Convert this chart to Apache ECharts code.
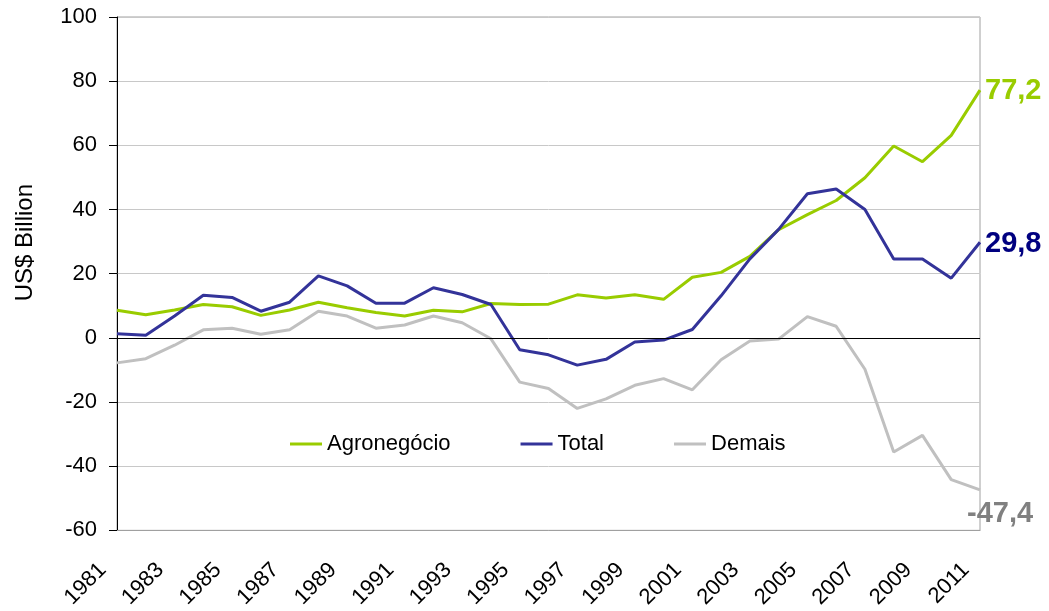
<!DOCTYPE html>
<html>
<head>
<meta charset="utf-8">
<title>Balança comercial</title>
<script src="https://cdn.jsdelivr.net/npm/echarts@6/dist/echarts.min.js"></script>
<style>
    html, body { margin: 0; padding: 0; background: #fff; }
    .chart { width: 1049px; height: 611px; }
</style>
</head>
<body>
<div class="chart"></div>
<script>
// data (US$ billion)
var years = ["1981", "1982", "1983", "1984", "1985", "1986", "1987", "1988", "1989", "1990",
    "1991", "1992", "1993", "1994", "1995", "1996", "1997", "1998", "1999", "2000",
    "2001", "2002", "2003", "2004", "2005", "2006", "2007", "2008", "2009", "2010", "2011"];
var agroData = [8.6, 7.2, 8.7, 10.4, 9.7, 7.0, 8.7, 11.1, 9.4, 7.9,
    6.8, 8.6, 8.1, 10.7, 10.4, 10.5, 13.4, 12.4, 13.4, 12.0,
    18.9, 20.4, 25.4, 33.7, 38.4, 42.8, 49.9, 59.8, 54.9, 63.1, 77.2];
var totalData = [1.3, 0.8, 6.8, 13.3, 12.6, 8.3, 11.1, 19.3, 16.2, 10.8,
    10.8, 15.6, 13.5, 10.4, -3.7, -5.3, -8.5, -6.7, -1.3, -0.7,
    2.6, 13.1, 24.6, 33.8, 44.9, 46.4, 40.0, 24.6, 24.6, 18.6, 29.8];
var demaisData = [-7.8, -6.5, -2.3, 2.5, 3.0, 1.1, 2.5, 8.3, 6.8, 3.0,
    4.0, 6.8, 4.7, -0.3, -13.8, -15.8, -22.0, -19.0, -14.8, -12.7,
    -16.2, -6.8, -1.0, -0.4, 6.6, 3.6, -9.8, -35.6, -30.4, -44.2, -47.4];
var seriesNames = ["Agronegócio", "Total", "Demais"];

(function () {
    var myChart = echarts.init(document.querySelector(".chart"));
    var font = "Liberation Sans";

    // value label at the end of each line, decimal comma
    function endLabel(color, offset) {
        return {
            show: true,
            distance: 5,
            offset: offset,
            color: color,
            fontFamily: font,
            fontWeight: "bold",
            fontSize: 29,
            formatter: function (p) {
                return String(p.value).replace(".", ",");
            }
        };
    }

    var option = {
        animation: false,
        color: ["#99cc00", "#333399", "#c0c0c0"],
        grid: {
            left: 117,
            right: 69,
            top: 17,
            bottom: 80,
            show: true,
            borderColor: "#a0a0a0",
            borderWidth: 1
        },
        legend: {
            data: seriesNames,
            left: 285,
            top: 428,
            icon: "rect",
            itemWidth: 32,
            itemHeight: 3,
            itemGap: 70,
            textStyle: {
                color: "#000",
                fontFamily: font,
                fontSize: 22
            }
        },
        xAxis: {
            type: "category",
            data: years,
            boundaryGap: false,
            axisLine: {
                onZero: false,
                lineStyle: { color: "#a0a0a0" }
            },
            axisTick: { show: false },
            axisLabel: {
                interval: 1,
                rotate: 45,
                margin: 22,
                padding: [0, 20, 0, 0],
                color: "#000",
                fontFamily: font,
                fontSize: 22
            },
            splitLine: { show: false }
        },
        yAxis: {
            type: "value",
            min: -60,
            max: 100,
            interval: 20,
            name: "US$ Billion",
            nameLocation: "middle",
            nameGap: 80,
            nameTextStyle: {
                color: "#000",
                fontFamily: font,
                fontSize: 24,
                padding: [0, 0, 0, 62]
            },
            axisLine: {
                show: true,
                lineStyle: { color: "#000" }
            },
            axisTick: {
                show: true,
                inside: false,
                length: 8,
                lineStyle: { color: "#000" }
            },
            axisLabel: {
                margin: 20,
                color: "#000",
                fontFamily: font,
                fontSize: 22
            },
            splitLine: {
                lineStyle: { color: "#c8c8c8" }
            }
        },
        series: [
            {
                name: seriesNames[0],
                type: "line",
                symbol: "none",
                lineStyle: { width: 3 },
                endLabel: endLabel("#99cc00", [0, 1]),
                data: agroData,
                // zero line
                markLine: {
                    silent: true,
                    symbol: "none",
                    label: { show: false },
                    lineStyle: { color: "#000", width: 1, type: "solid" },
                    data: [{ yAxis: 0 }]
                }
            },
            {
                name: seriesNames[1],
                type: "line",
                symbol: "none",
                lineStyle: { width: 3 },
                endLabel: endLabel("#000080", [0, 2]),
                data: totalData
            },
            {
                name: seriesNames[2],
                type: "line",
                symbol: "none",
                z: 1,
                lineStyle: { width: 3 },
                endLabel: endLabel("#808080", [-18, 24]),
                data: demaisData
            }
        ]
    };
    myChart.setOption(option);
    window.addEventListener("resize", function () {
        myChart.resize();
    });
})();
</script>
</body>
</html>
